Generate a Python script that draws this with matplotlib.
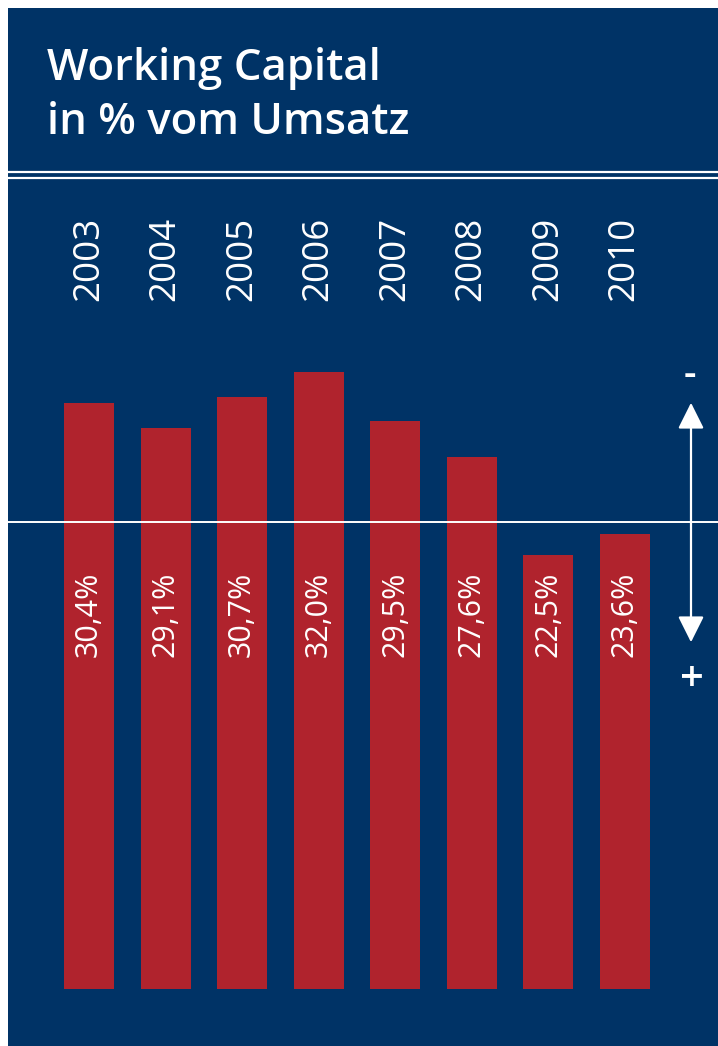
import matplotlib
matplotlib.use("Agg")
import matplotlib.pyplot as plt
import matplotlib.transforms as mtrans
from matplotlib.patches import Rectangle, FancyArrowPatch

# data
years = ["2003", "2004", "2005", "2006", "2007", "2008", "2009", "2010"]
values = [30.4, 29.1, 30.7, 32.0, 29.5, 27.6, 22.5, 23.6]
labels = ["30,4%", "29,1%", "30,7%", "32,0%", "29,5%", "27,6%", "22,5%", "23,6%"]

navy = "#003366"
red = "#B0232D"
W, H = 718, 1046

plt.rcParams['font.family'] = ['Open Sans', 'DejaVu Sans']

fig = plt.figure(figsize=(W / 100, H / 100), dpi=100)
fig.patch.set_facecolor("white")

def fx(px):
    return px / W

def fy(py):
    return 1 - py / H

# dark panel, behind everything
fig.patches.append(Rectangle((fx(8), 0), 1 - fx(8), fy(8), transform=fig.transFigure,
                             facecolor=navy, edgecolor="none", zorder=-5))

# title
fig.text(fx(47), fy(80), "Working Capital", color="white", fontsize=31.5,
         fontweight="semibold", ha="left", va="baseline")
fig.text(fx(47), fy(134), "in % vom Umsatz", color="white", fontsize=31.5,
         fontweight="semibold", ha="left", va="baseline")

# double rule under title
for py in (172, 177.5):
    fig.add_artist(plt.Line2D([fx(8), 1], [fy(py), fy(py)], color="white", lw=1.6,
                              transform=fig.transFigure))

# bars, bottom at pixel 989, ~19.27 px per %
ax = fig.add_axes([0, fy(989), 1, fy(0) - fy(989)])
ax.set_facecolor("none")
step = 76.5
ax.set_xlim(-89 / step, (W - 89) / step)
ax.set_ylim(0, 989 / 19.27)
xs = list(range(len(years)))
ax.bar(xs, values, width=50 / step, color=red, zorder=2)
ax.axis("off")

blend = mtrans.blended_transform_factory(ax.transData, fig.transFigure)
for x, yr, lab in zip(xs, years, labels):
    ax.text(x, fy(301), yr, transform=blend, rotation=90, ha="center", va="bottom",
            color="white", fontsize=26.5)
    ax.text(x, fy(657), lab, transform=blend, rotation=90, ha="center", va="bottom",
            color="white", fontsize=22, zorder=3)

# reference line
fig.add_artist(plt.Line2D([fx(8), 1], [fy(521.5), fy(521.5)], color="white", lw=1.4,
                          transform=fig.transFigure, zorder=5))

# double arrow with - / +
fig.add_artist(FancyArrowPatch(
    (fx(691), fy(645)), (fx(691), fy(400)), transform=fig.transFigure,
    arrowstyle="<|-|>,head_length=8,head_width=4", color="white", lw=1.6,
    mutation_scale=2))
fig.text(fx(690), fy(376), "-", color="white", fontsize=28, fontweight="semibold",
         ha="center", va="center")
fig.text(fx(692), fy(680), "+", color="white", fontsize=30, fontweight="semibold",
         ha="center", va="center")

fig.savefig("out.png", dpi=100, facecolor=fig.get_facecolor())
